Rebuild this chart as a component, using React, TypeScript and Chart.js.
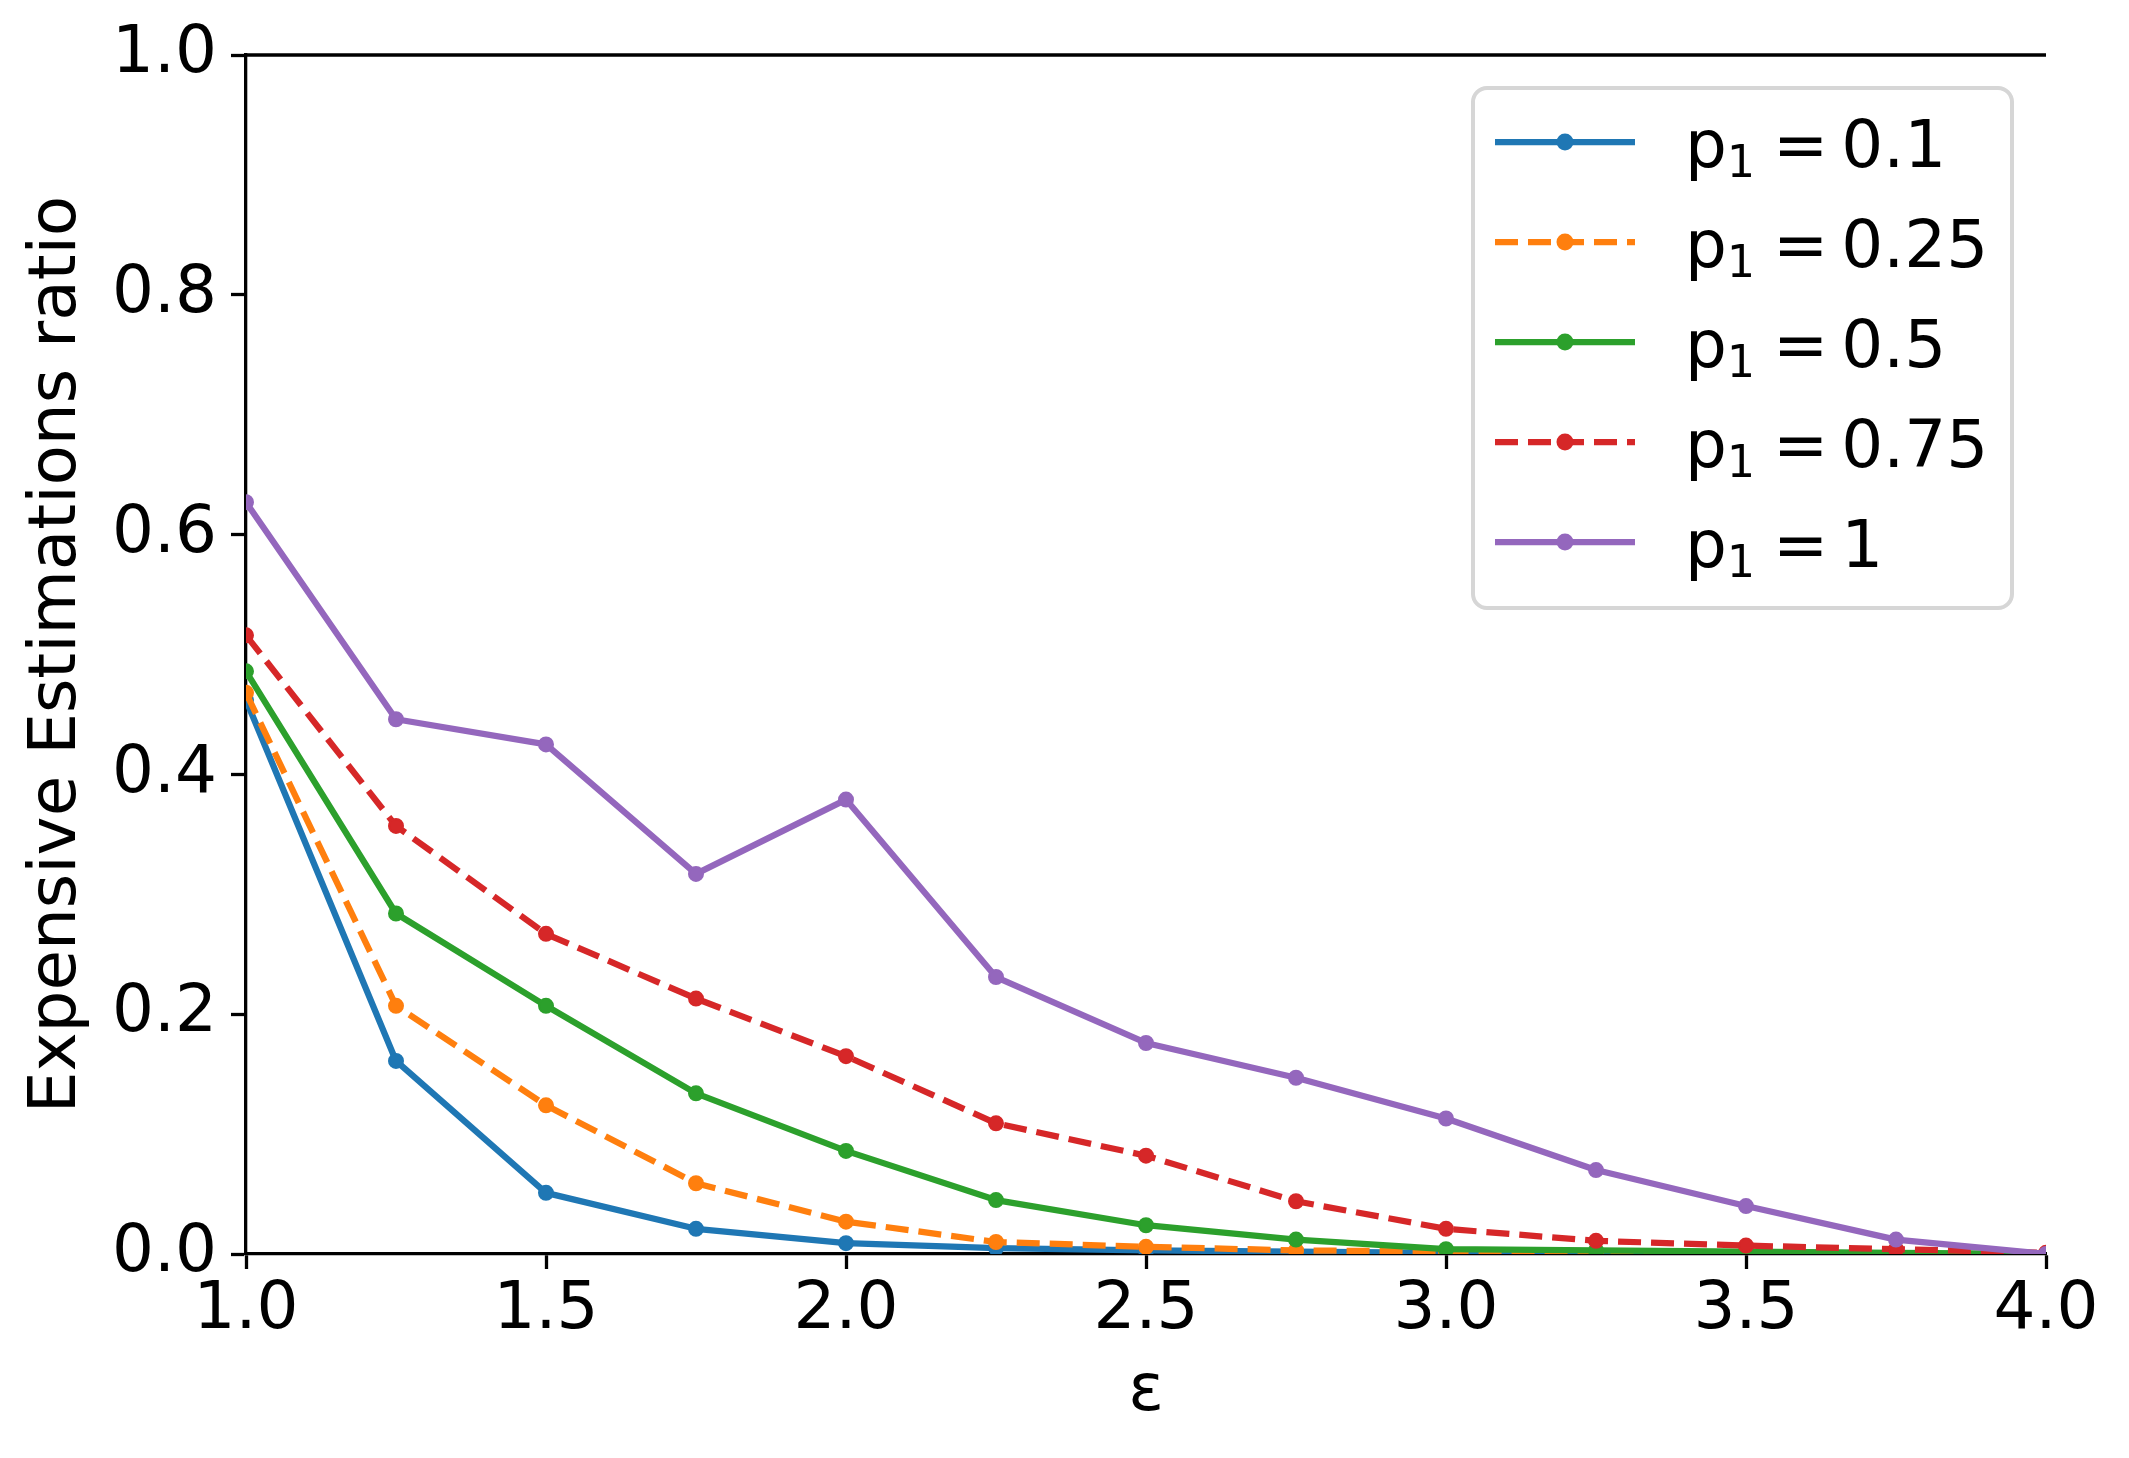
import { Chart, registerables } from 'chart.js';
import { useEffect, useRef } from 'react';

Chart.register(...registerables);

const eps = [1.0, 1.25, 1.5, 1.75, 2.0, 2.25, 2.5, 2.75, 3.0, 3.25, 3.5, 3.75, 4.0];
const p1Values = ['0.1', '0.25', '0.5', '0.75', '1'];
const ratioP01 = [0.462, 0.161, 0.051, 0.021, 0.009, 0.005, 0.003, 0.002, 0.001, 0.001, 0.0, 0.0, 0.0];
const ratioP025 = [0.468, 0.207, 0.124, 0.059, 0.027, 0.01, 0.006, 0.003, 0.002, 0.001, 0.001, 0.0, 0.0];
const ratioP05 = [0.486, 0.284, 0.207, 0.134, 0.086, 0.045, 0.024, 0.012, 0.004, 0.003, 0.002, 0.001, 0.0];
const ratioP075 = [0.516, 0.357, 0.267, 0.213, 0.165, 0.109, 0.082, 0.044, 0.021, 0.011, 0.007, 0.004, 0.001];
const ratioP1 = [0.627, 0.446, 0.425, 0.317, 0.379, 0.231, 0.176, 0.147, 0.113, 0.07, 0.04, 0.012, 0.0];
const yTicks = [0, 0.2, 0.4, 0.6, 0.8, 1.0];
const xTicks = [1.0, 1.5, 2.0, 2.5, 3.0, 3.5, 4.0];

const series = [ratioP01, ratioP025, ratioP05, ratioP075, ratioP1];
const colors = ['#1f77b4', '#ff7f0e', '#2ca02c', '#d62728', '#9467bd'];
const dashed = [false, true, false, true, false];

const FONT = 'DejaVu Sans';
const FS = 66;
const LW = 6.25;
const DASH = [23, 10];
const SPINE = 3.3;

// top spine (matplotlib keeps it, right one is hidden)
const topSpine = {
    id: 'topSpine',
    afterDraw(chart: any) {
        const { ctx, chartArea } = chart;
        ctx.save();
        ctx.strokeStyle = '#000';
        ctx.lineWidth = SPINE;
        ctx.beginPath();
        ctx.moveTo(chartArea.left - SPINE / 2, chartArea.top);
        ctx.lineTo(chartArea.right, chartArea.top);
        ctx.stroke();
        ctx.restore();
    },
};

// legend box in the upper right, drawn like matplotlib's
const insideLegend = {
    id: 'insideLegend',
    afterDraw(chart: any) {
        const { ctx } = chart;
        const box = { x: 1473, y: 88, w: 539, h: 520, r: 14 };
        ctx.save();
        ctx.beginPath();
        ctx.roundRect(box.x, box.y, box.w, box.h, box.r);
        ctx.fillStyle = 'rgba(255,255,255,0.8)';
        ctx.fill();
        ctx.lineWidth = 4;
        ctx.strokeStyle = '#d6d6d6';
        ctx.stroke();

        chart.data.datasets.forEach((ds: any, i: number) => {
            const y = 142 + i * 100;
            const x0 = 1495;
            const x1 = 1635;
            ctx.strokeStyle = ds.borderColor;
            ctx.lineWidth = LW;
            ctx.lineCap = 'butt';
            ctx.setLineDash(ds.borderDash || []);
            ctx.beginPath();
            ctx.moveTo(x0, y);
            ctx.lineTo(x1, y);
            ctx.stroke();
            ctx.setLineDash([]);
            ctx.beginPath();
            ctx.arc((x0 + x1) / 2, y, 8.5, 0, Math.PI * 2);
            ctx.fillStyle = ds.borderColor;
            ctx.fill();

            const base = y + 25;
            let tx = 1685;
            ctx.fillStyle = '#000';
            ctx.textBaseline = 'alphabetic';
            ctx.textAlign = 'left';
            ctx.font = `${FS}px "${FONT}"`;
            ctx.fillText('p', tx, base);
            tx += ctx.measureText('p').width;
            ctx.font = `${Math.round(FS * 0.66)}px "${FONT}"`;
            ctx.fillText('1', tx, base + 10);
            tx += ctx.measureText('1').width + 18;
            ctx.font = `${FS}px "${FONT}"`;
            ctx.fillText('=', tx, base);
            tx += ctx.measureText('=').width + 13;
            ctx.fillText(p1Values[i], tx, base);
        });
        ctx.restore();
    },
};

const App = () => {
    const chartRef = useRef<HTMLCanvasElement | null>(null);
    const chartInstance = useRef<Chart<'line'> | null>(null);

    useEffect(() => {
        document.body.style.margin = '0';
        if (!chartRef.current) return;
        const ctx = chartRef.current.getContext('2d');
        if (!ctx) return;
        if (chartInstance.current) chartInstance.current.destroy();

        Chart.defaults.font.family = FONT;
        Chart.defaults.color = '#000';

        chartInstance.current = new Chart(ctx, {
            type: 'line',
            data: {
                datasets: series.map((vals, i) => ({
                    label: `p₁ = ${p1Values[i]}`,
                    data: eps.map((x, j) => ({ x, y: vals[j] })),
                    borderColor: colors[i],
                    backgroundColor: colors[i],
                    pointBackgroundColor: colors[i],
                    pointBorderColor: colors[i],
                    borderWidth: LW,
                    borderDash: dashed[i] ? DASH : [],
                    borderJoinStyle: 'round' as const,
                    pointRadius: 7,
                    pointBorderWidth: 2,
                    tension: 0,
                    fill: false,
                    clip: 0,
                    order: series.length - i,
                })),
            },
            options: {
                responsive: false,
                maintainAspectRatio: false,
                devicePixelRatio: 1,
                animation: false,
                layout: { padding: { top: 55, right: 83, bottom: 0, left: 0 } },
                plugins: {
                    legend: { display: false },
                    tooltip: { enabled: false },
                },
                scales: {
                    x: {
                        type: 'linear',
                        min: 1,
                        max: 4,
                        afterFit: (s: any) => { s.height = 204; },
                        afterBuildTicks: (s: any) => { s.ticks = xTicks.map((v) => ({ value: v })); },
                        ticks: {
                            font: { size: FS },
                            padding: 2,
                            autoSkip: false,
                            maxRotation: 0,
                            callback: (v: any) => Number(v).toFixed(1),
                        },
                        grid: {
                            drawOnChartArea: false,
                            drawTicks: true,
                            tickLength: 15,
                            tickWidth: SPINE,
                            tickColor: '#000',
                        },
                        border: { display: true, color: '#000', width: SPINE },
                        title: {
                            display: true,
                            text: 'ε',
                            font: { size: FS },
                            padding: { top: 0, bottom: 26 },
                        },
                    },
                    y: {
                        type: 'linear',
                        min: 0,
                        max: 1,
                        afterFit: (s: any) => { s.width = 246; },
                        afterBuildTicks: (s: any) => { s.ticks = yTicks.map((v) => ({ value: v })); },
                        ticks: {
                            font: { size: FS },
                            padding: 14,
                            autoSkip: false,
                            callback: (v: any) => Number(v).toFixed(1),
                        },
                        grid: {
                            drawOnChartArea: false,
                            drawTicks: true,
                            tickLength: 15,
                            tickWidth: SPINE,
                            tickColor: '#000',
                        },
                        border: { display: true, color: '#000', width: SPINE },
                        title: {
                            display: true,
                            text: 'Expensive Estimations ratio',
                            font: { size: FS },
                            padding: { top: 18, bottom: 0 },
                        },
                    },
                },
            },
            plugins: [topSpine, insideLegend],
        });

        return () => {
            if (chartInstance.current) {
                chartInstance.current.destroy();
                chartInstance.current = null;
            }
        };
    }, []);

    return (
        <div style={{ width: 2129, height: 1458, background: '#fff' }}>
            <canvas ref={chartRef} width={2129} height={1458} style={{ width: 2129, height: 1458 }} />
        </div>
    );
};

export default App;
